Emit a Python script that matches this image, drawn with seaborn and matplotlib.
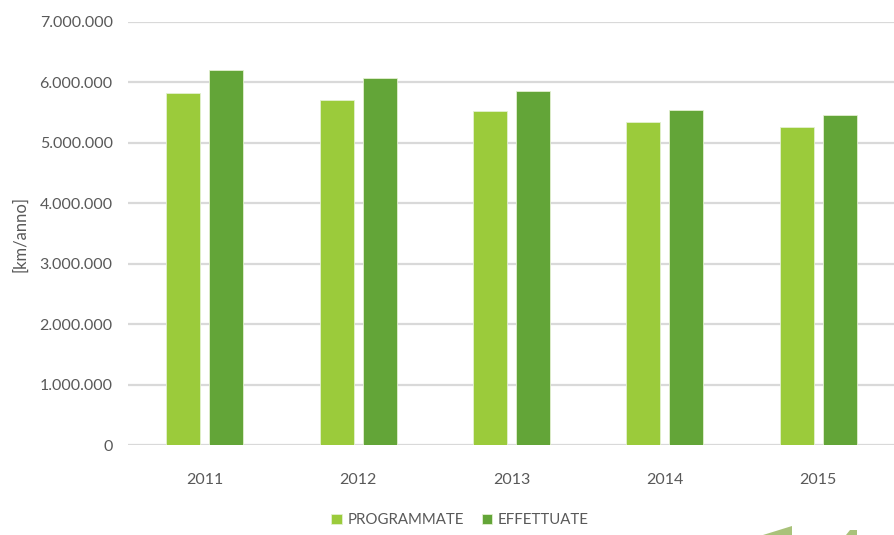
import matplotlib
matplotlib.use("Agg")
import matplotlib.pyplot as plt
from matplotlib.ticker import FuncFormatter, MultipleLocator
from matplotlib.patches import Polygon
import seaborn as sns
import pandas as pd

# Percorrenze annue (km/anno)
anni = ["2011", "2012", "2013", "2014", "2015"]
programmate = [5820000, 5710000, 5530000, 5340000, 5270000]
effettuate = [6200000, 6080000, 5850000, 5540000, 5460000]
serie = ["PROGRAMMATE", "EFFETTUATE"]

df = pd.DataFrame({
    "anno": anni * 2,
    "km": programmate + effettuate,
    "serie": [serie[0]] * len(anni) + [serie[1]] * len(anni),
})

sns.set_theme(style="white")
plt.rcParams["font.family"] = ["Lato", "DejaVu Sans"]

text_col = "#595959"
grid_col = "#D9D9D9"
palette = {"PROGRAMMATE": "#9BCB3B", "EFFETTUATE": "#63A538"}

fig = plt.figure(figsize=(8.95, 5.35), dpi=100)
ax = fig.add_axes([0.143, 0.168, 0.857, 0.791])

sns.barplot(data=df, x="anno", y="km", hue="serie", hue_order=serie,
            palette=palette, width=0.56, gap=0.21, saturation=1,
            edgecolor="#E3F0D0", linewidth=0.6, ax=ax, legend=True)

ax.set_ylim(0, 7000000)
ax.set_xlim(-0.5, 4.5)
ax.yaxis.set_major_locator(MultipleLocator(1000000))
ax.yaxis.set_major_formatter(FuncFormatter(lambda v, p: f"{int(v):,}".replace(",", ".")))
ax.grid(axis="y", color=grid_col, linewidth=1.6)
ax.set_axisbelow(True)
for s in ax.spines.values():
    s.set_visible(False)
ax.tick_params(axis="both", length=0, labelsize=11.5, colors=text_col)
ax.tick_params(axis="y", pad=11)
ax.tick_params(axis="x", pad=20)
ax.set_xlabel("")
ax.set_ylabel("[km/anno]", fontsize=12, color=text_col, labelpad=8)

handles, labels = ax.get_legend_handles_labels()
ax.get_legend().remove()
fig.legend(handles, labels, loc="center", bbox_to_anchor=(460 / 895, 1 - 520 / 535),
           bbox_transform=fig.transFigure, ncol=2, frameon=False,
           fontsize=10.8, handlelength=0.7, handleheight=0.7, handletextpad=0.35,
           columnspacing=1.2, labelcolor=text_col)

# decorative wedge fragments along the bottom edge
fig.patches.append(Polygon([(0.852, 0.0), (0.885, 0.0), (0.885, 0.016)], closed=True,
                           transform=fig.transFigure, facecolor="#A9C27A", edgecolor="none"))
fig.patches.append(Polygon([(0.945, 0.0), (0.958, 0.0), (0.958, 0.010), (0.950, 0.010)], closed=True,
                           transform=fig.transFigure, facecolor="#A9C27A", edgecolor="none"))

fig.savefig("out.png", dpi=100)
